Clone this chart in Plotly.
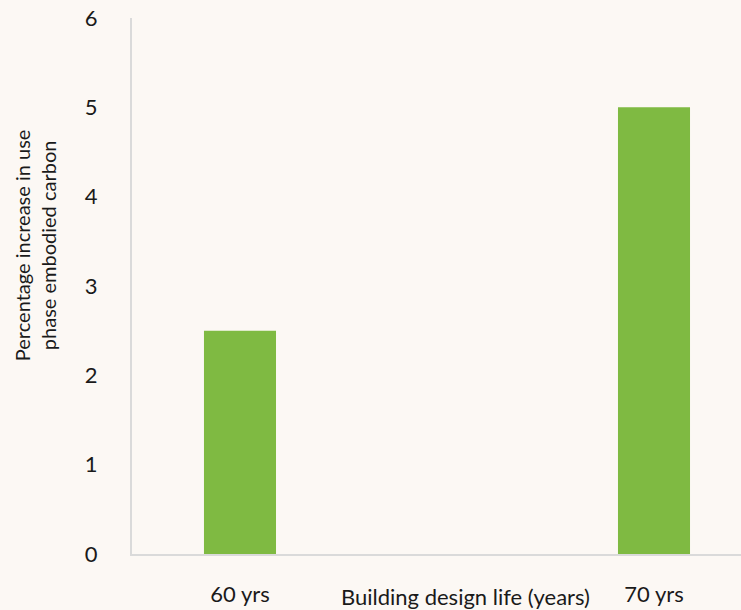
import plotly.graph_objects as go

# Design-life categories and the resulting increase in use-phase embodied carbon (%)
categories = ["60 yrs", "70 yrs"]
positions = [0, 2]
values = [2.5, 5.0]
y_ticks = [0, 1, 2, 3, 4, 5, 6]

BG = "#FCF8F4"
BAR = "#7FBA42"
AXIS = "#DADADA"
TEXT = "#1A1A1A"
FONT = "Lato, Open Sans, sans-serif"

fig = go.Figure(
    go.Bar(
        x=positions,
        y=values,
        width=0.348,
        marker=dict(color=BAR, line=dict(width=0)),
        hoverinfo="skip",
    )
)

fig.update_layout(
    width=741,
    height=610,
    paper_bgcolor=BG,
    plot_bgcolor=BG,
    margin=dict(l=132, r=0, t=18, b=56),
    showlegend=False,
    font=dict(family=FONT, color=TEXT, size=22),
)

fig.update_xaxes(
    range=[-0.5217, 2.4203],
    tickvals=positions,
    ticktext=categories,
    showgrid=False,
    zeroline=False,
    showline=True,
    linecolor=AXIS,
    linewidth=2,
    ticks="",
    ticklabelstandoff=20,
    tickfont=dict(size=22, family=FONT, color=TEXT),
)

fig.update_yaxes(
    range=[0, 6],
    tickvals=y_ticks,
    showgrid=False,
    zeroline=False,
    showline=True,
    linecolor=AXIS,
    linewidth=2,
    ticks="",
    ticklabelstandoff=28,
    tickfont=dict(size=22, family=FONT, color=TEXT),
)

fig.add_annotation(
    text="Building design life (years)",
    xref="paper", yref="paper",
    x=0.547, y=-0.080,
    xanchor="center", yanchor="middle",
    showarrow=False,
    font=dict(size=22, family=FONT, color=TEXT),
)

fig.add_annotation(
    text="Percentage increase in use<br>phase embodied carbon",
    xref="paper", yref="paper",
    x=-0.159, y=0.5765,
    xanchor="center", yanchor="middle",
    textangle=-90,
    showarrow=False,
    font=dict(size=20, family=FONT, color=TEXT),
)

fig.write_html("out.html")
